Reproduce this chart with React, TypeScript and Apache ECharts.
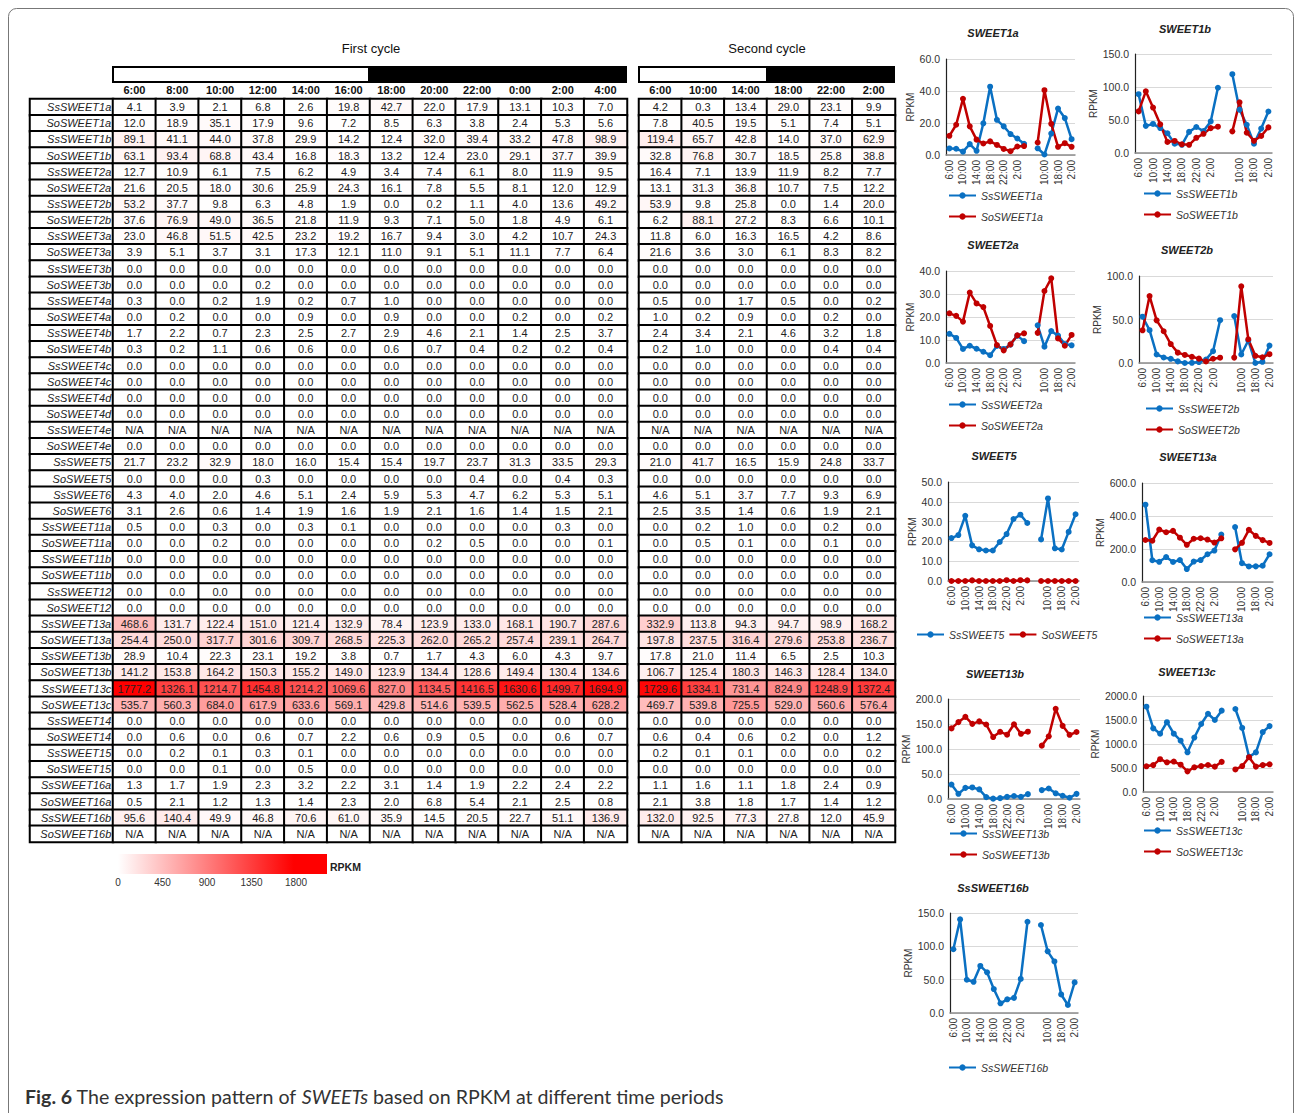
import React, { useEffect, useRef } from 'react';
import * as echarts from 'echarts';

const FONT = '"Liberation Sans", Arial, Helvetica, sans-serif';

const genes = [
  'SsSWEET1a', 'SoSWEET1a', 'SsSWEET1b', 'SoSWEET1b', 'SsSWEET2a', 'SoSWEET2a',
  'SsSWEET2b', 'SoSWEET2b', 'SsSWEET3a', 'SoSWEET3a', 'SsSWEET3b', 'SoSWEET3b',
  'SsSWEET4a', 'SoSWEET4a', 'SsSWEET4b', 'SoSWEET4b', 'SsSWEET4c', 'SoSWEET4c',
  'SsSWEET4d', 'SoSWEET4d', 'SsSWEET4e', 'SoSWEET4e', 'SsSWEET5', 'SoSWEET5',
  'SsSWEET6', 'SoSWEET6', 'SsSWEET11a', 'SoSWEET11a', 'SsSWEET11b', 'SoSWEET11b',
  'SsSWEET12', 'SoSWEET12', 'SsSWEET13a', 'SoSWEET13a', 'SsSWEET13b', 'SoSWEET13b',
  'SsSWEET13c', 'SoSWEET13c', 'SsSWEET14', 'SoSWEET14', 'SsSWEET15', 'SoSWEET15',
  'SsSWEET16a', 'SoSWEET16a', 'SsSWEET16b', 'SoSWEET16b',
];

const firstCycleTimes = ['6:00', '8:00', '10:00', '12:00', '14:00', '16:00', '18:00', '20:00', '22:00', '0:00', '2:00', '4:00'];
const secondCycleTimes = ['6:00', '10:00', '14:00', '18:00', '22:00', '2:00'];

const Z12 = [0, 0, 0, 0, 0, 0, 0, 0, 0, 0, 0, 0];
const NA12 = [null, null, null, null, null, null, null, null, null, null, null, null];
const Z6 = [0, 0, 0, 0, 0, 0];
const NA6 = [null, null, null, null, null, null];

// RPKM, first cycle (null = N/A)
const firstCycle: (number | null)[][] = [
  [4.1, 3.9, 2.1, 6.8, 2.6, 19.8, 42.7, 22.0, 17.9, 13.1, 10.3, 7.0],
  [12.0, 18.9, 35.1, 17.9, 9.6, 7.2, 8.5, 6.3, 3.8, 2.4, 5.3, 5.6],
  [89.1, 41.1, 44.0, 37.8, 29.9, 14.2, 12.4, 32.0, 39.4, 33.2, 47.8, 98.9],
  [63.1, 93.4, 68.8, 43.4, 16.8, 18.3, 13.2, 12.4, 23.0, 29.1, 37.7, 39.9],
  [12.7, 10.9, 6.1, 7.5, 6.2, 4.9, 3.4, 7.4, 6.1, 8.0, 11.9, 9.5],
  [21.6, 20.5, 18.0, 30.6, 25.9, 24.3, 16.1, 7.8, 5.5, 8.1, 12.0, 12.9],
  [53.2, 37.7, 9.8, 6.3, 4.8, 1.9, 0.0, 0.2, 1.1, 4.0, 13.6, 49.2],
  [37.6, 76.9, 49.0, 36.5, 21.8, 11.9, 9.3, 7.1, 5.0, 1.8, 4.9, 6.1],
  [23.0, 46.8, 51.5, 42.5, 23.2, 19.2, 16.7, 9.4, 3.0, 4.2, 10.7, 24.3],
  [3.9, 5.1, 3.7, 3.1, 17.3, 12.1, 11.0, 9.1, 5.1, 11.1, 7.7, 6.4],
  Z12,
  [0.0, 0.0, 0.0, 0.2, 0.0, 0.0, 0.0, 0.0, 0.0, 0.0, 0.0, 0.0],
  [0.3, 0.0, 0.2, 1.9, 0.2, 0.7, 1.0, 0.0, 0.0, 0.0, 0.0, 0.0],
  [0.0, 0.2, 0.0, 0.0, 0.9, 0.0, 0.9, 0.0, 0.0, 0.2, 0.0, 0.2],
  [1.7, 2.2, 0.7, 2.3, 2.5, 2.7, 2.9, 4.6, 2.1, 1.4, 2.5, 3.7],
  [0.3, 0.2, 1.1, 0.6, 0.6, 0.0, 0.6, 0.7, 0.4, 0.2, 0.2, 0.4],
  Z12,
  Z12,
  Z12,
  Z12,
  NA12,
  Z12,
  [21.7, 23.2, 32.9, 18.0, 16.0, 15.4, 15.4, 19.7, 23.7, 31.3, 33.5, 29.3],
  [0.0, 0.0, 0.0, 0.3, 0.0, 0.0, 0.0, 0.0, 0.4, 0.0, 0.4, 0.3],
  [4.3, 4.0, 2.0, 4.6, 5.1, 2.4, 5.9, 5.3, 4.7, 6.2, 5.3, 5.1],
  [3.1, 2.6, 0.6, 1.4, 1.9, 1.6, 1.9, 2.1, 1.6, 1.4, 1.5, 2.1],
  [0.5, 0.0, 0.3, 0.0, 0.3, 0.1, 0.0, 0.0, 0.0, 0.0, 0.3, 0.0],
  [0.0, 0.0, 0.2, 0.0, 0.0, 0.0, 0.0, 0.2, 0.5, 0.0, 0.0, 0.1],
  Z12,
  Z12,
  Z12,
  Z12,
  [468.6, 131.7, 122.4, 151.0, 121.4, 132.9, 78.4, 123.9, 133.0, 168.1, 190.7, 287.6],
  [254.4, 250.0, 317.7, 301.6, 309.7, 268.5, 225.3, 262.0, 265.2, 257.4, 239.1, 264.7],
  [28.9, 10.4, 22.3, 23.1, 19.2, 3.8, 0.7, 1.7, 4.3, 6.0, 4.3, 9.7],
  [141.2, 153.8, 164.2, 150.3, 155.2, 149.0, 123.9, 134.4, 128.6, 149.4, 130.4, 134.6],
  [1777.2, 1326.1, 1214.7, 1454.8, 1214.2, 1069.6, 827.0, 1134.5, 1416.5, 1630.6, 1499.7, 1694.9],
  [535.7, 560.3, 684.0, 617.9, 633.6, 569.1, 429.8, 514.6, 539.5, 562.5, 528.4, 628.2],
  Z12,
  [0.0, 0.6, 0.0, 0.6, 0.7, 2.2, 0.6, 0.9, 0.5, 0.0, 0.6, 0.7],
  [0.0, 0.2, 0.1, 0.3, 0.1, 0.0, 0.0, 0.0, 0.0, 0.0, 0.0, 0.0],
  [0.0, 0.0, 0.1, 0.0, 0.5, 0.0, 0.0, 0.0, 0.0, 0.0, 0.0, 0.0],
  [1.3, 1.7, 1.9, 2.3, 3.2, 2.2, 3.1, 1.4, 1.9, 2.2, 2.4, 2.2],
  [0.5, 2.1, 1.2, 1.3, 1.4, 2.3, 2.0, 6.8, 5.4, 2.1, 2.5, 0.8],
  [95.6, 140.4, 49.9, 46.8, 70.6, 61.0, 35.9, 14.5, 20.5, 22.7, 51.1, 136.9],
  NA12,
];

// RPKM, second cycle (null = N/A)
const secondCycle: (number | null)[][] = [
  [4.2, 0.3, 13.4, 29.0, 23.1, 9.9],
  [7.8, 40.5, 19.5, 5.1, 7.4, 5.1],
  [119.4, 65.7, 42.8, 14.0, 37.0, 62.9],
  [32.8, 76.8, 30.7, 18.5, 25.8, 38.8],
  [16.4, 7.1, 13.9, 11.9, 8.2, 7.7],
  [13.1, 31.3, 36.8, 10.7, 7.5, 12.2],
  [53.9, 9.8, 25.8, 0.0, 1.4, 20.0],
  [6.2, 88.1, 27.2, 8.3, 6.6, 10.1],
  [11.8, 6.0, 16.3, 16.5, 4.2, 8.6],
  [21.6, 3.6, 3.0, 6.1, 8.3, 8.2],
  Z6,
  Z6,
  [0.5, 0.0, 1.7, 0.5, 0.0, 0.2],
  [1.0, 0.2, 0.9, 0.0, 0.2, 0.0],
  [2.4, 3.4, 2.1, 4.6, 3.2, 1.8],
  [0.2, 1.0, 0.0, 0.0, 0.4, 0.4],
  Z6,
  Z6,
  Z6,
  Z6,
  NA6,
  Z6,
  [21.0, 41.7, 16.5, 15.9, 24.8, 33.7],
  Z6,
  [4.6, 5.1, 3.7, 7.7, 9.3, 6.9],
  [2.5, 3.5, 1.4, 0.6, 1.9, 2.1],
  [0.0, 0.2, 1.0, 0.0, 0.2, 0.0],
  [0.0, 0.5, 0.1, 0.0, 0.1, 0.0],
  Z6,
  Z6,
  Z6,
  Z6,
  [332.9, 113.8, 94.3, 94.7, 98.9, 168.2],
  [197.8, 237.5, 316.4, 279.6, 253.8, 236.7],
  [17.8, 21.0, 11.4, 6.5, 2.5, 10.3],
  [106.7, 125.4, 180.3, 146.3, 128.4, 134.0],
  [1729.6, 1334.1, 731.4, 824.9, 1248.9, 1372.4],
  [469.7, 539.8, 725.5, 529.0, 560.6, 576.4],
  Z6,
  [0.6, 0.4, 0.6, 0.2, 0.0, 1.2],
  [0.2, 0.1, 0.1, 0.0, 0.0, 0.2],
  Z6,
  [1.1, 1.6, 1.1, 1.8, 2.4, 0.9],
  [2.1, 3.8, 1.8, 1.7, 1.4, 1.2],
  [132.0, 92.5, 77.3, 27.8, 12.0, 45.9],
  NA6,
];

const colorScaleTicks = [0, 450, 900, 1350, 1800];
const colorScaleMax = 1777.2;

// Line panels: title, genes shown, y-axis max and step
const panelTitles = ['SWEET1a', 'SWEET1b', 'SWEET2a', 'SWEET2b', 'SWEET5', 'SWEET13a', 'SWEET13b', 'SWEET13c', 'SsSWEET16b'];
const panelGenes = [
  ['SsSWEET1a', 'SoSWEET1a'],
  ['SsSWEET1b', 'SoSWEET1b'],
  ['SsSWEET2a', 'SoSWEET2a'],
  ['SsSWEET2b', 'SoSWEET2b'],
  ['SsSWEET5', 'SoSWEET5'],
  ['SsSWEET13a', 'SoSWEET13a'],
  ['SsSWEET13b', 'SoSWEET13b'],
  ['SsSWEET13c', 'SoSWEET13c'],
  ['SsSWEET16b'],
];
const panelYMax = [60, 150, 40, 100, 50, 600, 200, 2000, 150];
const panelYStep = [20, 50, 10, 50, 10, 200, 50, 500, 50];

const lineCategories = [...firstCycleTimes, '', ...secondCycleTimes];

// layout of panels (pixels)
const panelLayout = [
  { left: 946, top: 59, width: 129, height: 96, tx: 993, ty: 33, lx: 948, ly: 190, orient: 'vertical' },
  { left: 1135, top: 54, width: 137, height: 99, tx: 1185, ty: 29, lx: 1143, ly: 188, orient: 'vertical' },
  { left: 946, top: 271, width: 129, height: 92, tx: 993, ty: 245, lx: 948, ly: 399, orient: 'vertical' },
  { left: 1139, top: 276, width: 134, height: 87, tx: 1187, ty: 250, lx: 1145, ly: 403, orient: 'vertical' },
  { left: 948, top: 482, width: 131, height: 99, tx: 994, ty: 456, lx: 916, ly: 629, orient: 'horizontal' },
  { left: 1142, top: 483, width: 131, height: 99, tx: 1188, ty: 457, lx: 1143, ly: 612, orient: 'vertical' },
  { left: 948, top: 699, width: 132, height: 100, tx: 995, ty: 674, lx: 949, ly: 828, orient: 'vertical' },
  { left: 1143, top: 696, width: 130, height: 96, tx: 1187, ty: 672, lx: 1143, ly: 825, orient: 'vertical' },
  { left: 950, top: 913, width: 128, height: 100, tx: 993, ty: 888, lx: 948, ly: 1062, orient: 'vertical' },
];

const SS_COLOR = '#0a70c2';
const SO_COLOR = '#c00000';

function cellData(rows: (number | null)[][]) {
  const out: number[][] = [];
  rows.forEach((row, r) => row.forEach((v, c) => out.push([c, r, v === null ? -1 : v])));
  return out;
}

function buildOption() {
  const grid: any[] = [
    { left: 30, top: 99, width: 83, height: 743 },
    { left: 113, top: 99, width: 514, height: 743 },
    { left: 639, top: 99, width: 256, height: 743 },
  ];
  const headerLabel = { fontSize: 11, fontWeight: 'bold', color: '#111', margin: 4, fontFamily: FONT, interval: 0 };
  const xAxis: any[] = [
    { gridIndex: 0, type: 'category', data: ['name'], show: false },
    { gridIndex: 1, type: 'category', data: firstCycleTimes, position: 'top', axisLine: { show: false }, axisTick: { show: false }, axisLabel: headerLabel },
    { gridIndex: 2, type: 'category', data: secondCycleTimes, position: 'top', axisLine: { show: false }, axisTick: { show: false }, axisLabel: headerLabel },
  ];
  const yAxis: any[] = [0, 1, 2].map((g) => ({ gridIndex: g, type: 'category', data: genes, inverse: true, show: false }));

  const cellLabel = {
    show: true,
    fontSize: 11,
    color: '#222',
    fontFamily: FONT,
    formatter: (p: any) => (p.data[2] < 0 ? 'N/A' : p.data[2].toFixed(1)),
  };
  const series: any[] = [
    {
      type: 'heatmap', xAxisIndex: 0, yAxisIndex: 0, silent: true,
      // name column: value -1 falls outside the colour range and is drawn white
      data: genes.map((_, i) => [0, i, -1]),
      itemStyle: { borderColor: '#000', borderWidth: 2 },
      label: {
        show: true, position: 'insideRight', distance: 3, fontSize: 11, fontStyle: 'italic', color: '#222', fontFamily: FONT,
        formatter: (p: any) => genes[p.data[1]],
      },
      emphasis: { disabled: true },
    },
    {
      type: 'heatmap', xAxisIndex: 1, yAxisIndex: 1, silent: true,
      data: cellData(firstCycle),
      itemStyle: { borderColor: '#000', borderWidth: 2 },
      label: cellLabel,
      emphasis: { disabled: true },
    },
    {
      type: 'heatmap', xAxisIndex: 2, yAxisIndex: 2, silent: true,
      data: cellData(secondCycle),
      itemStyle: { borderColor: '#000', borderWidth: 2 },
      label: cellLabel,
      emphasis: { disabled: true },
    },
  ];

  const legend: any[] = [];
  const graphic: any[] = [];

  panelTitles.forEach((title, i) => {
    const L = panelLayout[i];
    const gi = 3 + i;
    grid.push({ left: L.left, top: L.top, width: L.width, height: L.height });
    xAxis.push({
      gridIndex: gi, type: 'category', data: lineCategories,
      axisLine: { show: true, lineStyle: { color: '#8c8c8c', width: 1.5 } },
      axisTick: { show: false },
      axisLabel: { interval: 1, rotate: 90, fontSize: 10, color: '#333', margin: 5, fontFamily: FONT },
    });
    yAxis.push({
      gridIndex: gi, type: 'value', min: 0, max: panelYMax[i], interval: panelYStep[i],
      name: 'RPKM', nameLocation: 'middle', nameGap: 31,
      nameTextStyle: { fontSize: 10, color: '#333', fontFamily: FONT },
      axisLine: { show: true, lineStyle: { color: '#222', width: 1.2 } },
      axisTick: { show: false },
      axisLabel: { fontSize: 10.5, color: '#333', margin: 6, fontFamily: FONT, formatter: (v: number) => v.toFixed(1) },
      splitLine: { show: true, lineStyle: { color: '#d9d9d9', width: 1 } },
    });
    panelGenes[i].forEach((g) => {
      const idx = genes.indexOf(g);
      const color = g.startsWith('Ss') ? SS_COLOR : SO_COLOR;
      const vals = [...firstCycle[idx], null, ...secondCycle[idx]].map((v) => (v === null ? '-' : v));
      series.push({
        type: 'line', name: g, xAxisIndex: gi, yAxisIndex: gi, data: vals,
        symbol: 'circle', symbolSize: 6, showAllSymbol: true, connectNulls: false,
        lineStyle: { width: 2.5, color }, itemStyle: { color },
        emphasis: { disabled: true }, silent: true,
      });
    });
    legend.push({
      data: panelGenes[i], orient: L.orient, left: L.lx, top: L.ly, padding: 0,
      itemWidth: 27, itemHeight: 8, itemGap: L.orient === 'vertical' ? 10 : 4,
      textStyle: { fontSize: 10.5, fontStyle: 'italic', color: '#333', fontFamily: FONT },
      selectedMode: false,
    });
    graphic.push({
      type: 'text', x: L.tx, y: L.ty,
      style: { text: title, fontSize: 11, fontWeight: 'bold', fontStyle: 'italic', fontFamily: FONT, fill: '#222', align: 'center', verticalAlign: 'middle' },
    });
  });

  // table headers
  graphic.push(
    { type: 'text', x: 371, y: 48, style: { text: 'First cycle', fontSize: 13, fontFamily: FONT, fill: '#111', align: 'center', verticalAlign: 'middle' } },
    { type: 'text', x: 767, y: 48, style: { text: 'Second cycle', fontSize: 13, fontFamily: FONT, fill: '#111', align: 'center', verticalAlign: 'middle' } },
    { type: 'rect', shape: { x: 113, y: 67, width: 256, height: 15 }, style: { fill: '#fff', stroke: '#000', lineWidth: 2 } },
    { type: 'rect', shape: { x: 368, y: 66, width: 259, height: 17 }, style: { fill: '#000' } },
    { type: 'rect', shape: { x: 639, y: 67, width: 128, height: 15 }, style: { fill: '#fff', stroke: '#000', lineWidth: 2 } },
    { type: 'rect', shape: { x: 766, y: 66, width: 129, height: 17 }, style: { fill: '#000' } },
  );

  // colour scale legend
  const x0 = 118;
  const pxPer = 44.5 / 450;
  const barL = 111;
  const barR = 327;
  const stopMax = (x0 + colorScaleMax * pxPer - barL) / (barR - barL);
  const stop0 = (x0 - barL) / (barR - barL);
  graphic.push({
    type: 'rect', shape: { x: barL, y: 854, width: barR - barL, height: 20 },
    style: {
      fill: new echarts.graphic.LinearGradient(0, 0, 1, 0, [
        { offset: 0, color: '#ffffff' },
        { offset: stop0, color: '#ffffff' },
        { offset: stopMax, color: '#ff0000' },
        { offset: 1, color: '#ff0000' },
      ]),
    },
  });
  colorScaleTicks.forEach((t) => {
    graphic.push({
      type: 'text', x: x0 + t * pxPer, y: 882,
      style: { text: String(t), fontSize: 10, fontFamily: FONT, fill: '#333', align: 'center', verticalAlign: 'middle' },
    });
  });
  graphic.push({ type: 'text', x: 330, y: 867, style: { text: 'RPKM', fontSize: 10.5, fontWeight: 'bold', fontFamily: FONT, fill: '#222', align: 'left', verticalAlign: 'middle' } });

  // frame and caption
  const capFont = 'Lato, "Open Sans", sans-serif';
  graphic.push(
    { type: 'rect', shape: { x: 8.5, y: 8.5, width: 1285, height: 1120, r: 8 }, style: { fill: 'none', stroke: '#777', lineWidth: 1 }, z: -1 },
    {
      type: 'text', x: 25, y: 1096,
      style: {
        text: '{b|Fig. 6} The expression pattern of {i|SWEETs} based on RPKM at different time periods',
        fontSize: 19.6, fontFamily: capFont, fill: '#333', verticalAlign: 'middle',
        rich: {
          b: { fontSize: 19.6, fontWeight: 'bold', fontFamily: capFont, fill: '#333' },
          i: { fontSize: 19.6, fontStyle: 'italic', fontFamily: capFont, fill: '#333' },
        },
      },
    },
  );

  return {
    animation: false,
    backgroundColor: '#ffffff',
    textStyle: { fontFamily: FONT },
    grid,
    xAxis,
    yAxis,
    visualMap: {
      type: 'continuous', show: false, seriesIndex: [0, 1, 2], dimension: 2,
      min: 0, max: colorScaleMax,
      inRange: { color: ['#ffffff', '#ff0000'] },
      outOfRange: { color: ['#ffffff'] },
    },
    legend,
    series,
    graphic,
  };
}

export default function App() {
  const ref = useRef<HTMLDivElement>(null);
  useEffect(() => {
    document.body.style.margin = '0';
    const chart = echarts.init(ref.current as HTMLDivElement, null, { renderer: 'svg' });
    chart.setOption(buildOption() as any);
    return () => chart.dispose();
  }, []);
  return <div ref={ref} style={{ width: 1295, height: 1113 }} />;
}
